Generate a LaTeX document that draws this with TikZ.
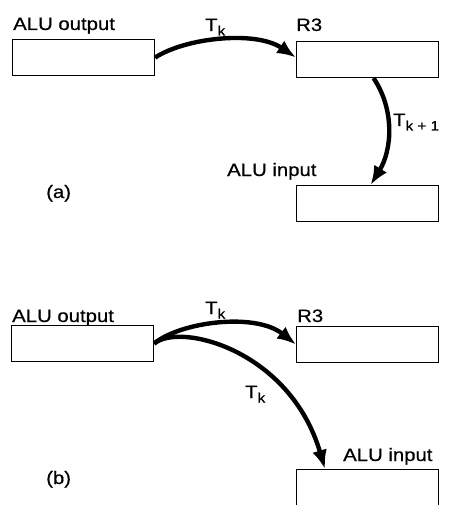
\documentclass[tikz,border=0pt]{standalone}
\usepackage{fontspec}
\setmainfont{Liberation Sans}[FakeStretch=1.13,FakeBold=0.6]
\usetikzlibrary{arrows.meta}

% lowered index for the clock-period labels
\newcommand\lowidx[1]{\raisebox{-4.5pt}{\fontsize{13.5}{13.5}\selectfont #1}}

\begin{document}
\begin{tikzpicture}[x=1pt,y=-1pt,
  reg/.style={draw, line width=1.1pt, minimum width=142pt, minimum height=36pt,
              inner sep=0pt, anchor=north west},
  lbl/.style={inner sep=0pt, anchor=base west, font=\fontsize{18}{18}\selectfont},
  flow/.style={line width=4.4pt, -{Latex[length=19pt,width=15pt]}}]

\useasboundingbox (0,0) rectangle (449,505);

% ---------- (a): two separate transfers ----------
\node[reg] (A1)  at (12,39)  {};
\node[reg] (R3a) at (296,41) {};
\node[reg] (Ia)  at (296,185) {};

\node[lbl] (A1l)  at (13,30)   {ALU output};
\node[lbl] (R3al) at (296,31)  {R3};
\node[lbl] (Ial)  at (227,176) {ALU input};
\node[lbl] (ta1)  at (205,31)  {T\lowidx{k}};
\node[lbl] (ta2)  at (393,126) {T\lowidx{k + 1}};
\node[lbl] (capa) at (46,198)  {(a)};

\draw[flow] (A1.east) .. controls (185,38) and (255,30) .. ([yshift=2pt]R3a.west);
\draw[flow] ([xshift=6pt]R3a.south) .. controls (395,110) and (392,150) .. ([xshift=3pt]Ia.north);

% ---------- (b): one transfer feeding both registers ----------
\node[reg] (B1)  at (11,325)  {};
\node[reg] (R3b) at (296,326) {};
\node[reg, minimum height=50pt] (Ib) at (296,469) {};

\node[lbl] (B1l)  at (12,322)  {ALU output};
\node[lbl] (R3bl) at (297,322) {R3};
\node[lbl] (Ibl)  at (343,461) {ALU input};
\node[lbl] (tb1)  at (205,314) {T\lowidx{k}};
\node[lbl] (tb2)  at (245,398) {T\lowidx{k}};
\node[lbl] (capb) at (46,484)  {(b)};

\draw[flow] (B1.east) .. controls (180,322) and (255,312) .. (R3b.west);
\draw[flow] (B1.east) .. controls (180,322) and (290,350) .. ([xshift=29pt]Ib.north west);

\end{tikzpicture}
\end{document}
